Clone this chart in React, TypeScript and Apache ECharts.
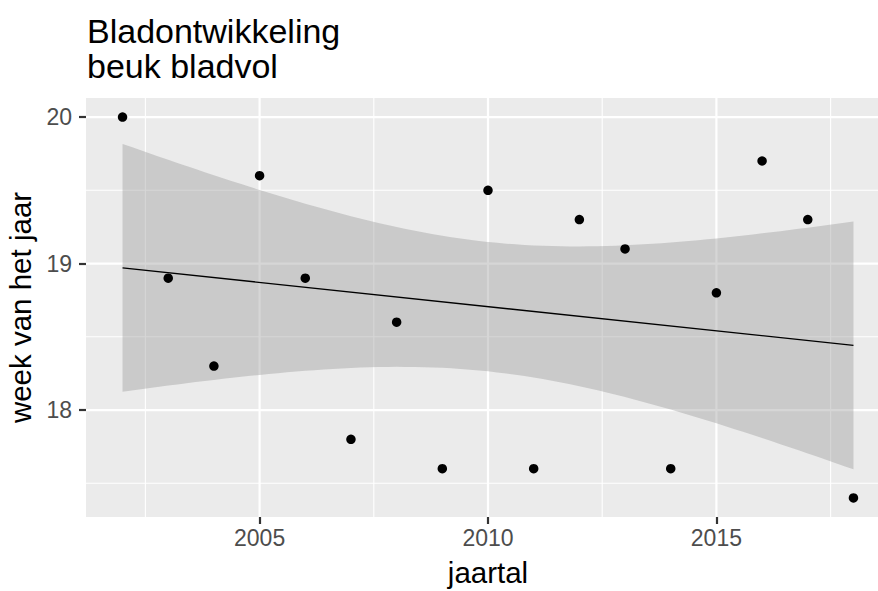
import React, { useEffect, useRef } from "react";
import * as echarts from "echarts";

// Week number at which the beech is in full leaf, per year
const years = [2002, 2003, 2004, 2005, 2006, 2007, 2008, 2009, 2010, 2011, 2012, 2013, 2014, 2015, 2016, 2017, 2018];
const weeks = [20.0, 18.9, 18.3, 19.6, 18.9, 17.8, 18.6, 17.6, 19.5, 17.6, 19.3, 19.1, 17.6, 18.8, 19.7, 19.3, 17.4];

const xTicks = [2005, 2010, 2015];
const xMinor = [2002.5, 2007.5, 2012.5, 2017.5];
const yTicks = [18, 19, 20];
const yMinor = [17.5, 18.5, 19.5];

const titleLines = ["Bladontwikkeling", "beuk bladvol"];
const xTitle = "jaartal";
const yTitle = "week van het jaar";

const X_MIN = 2001.2;
const X_MAX = 2018.8;
const Y_MIN = 17.27;
const Y_MAX = 20.13;

// Student t quantile (0.975) for n - 2 = 15 degrees of freedom
const T_975 = 2.131;
const FONT = "'Liberation Sans', Arial, Helvetica, sans-serif";

// Ordinary least squares fit with a 95% confidence band for the mean
function linearFit(xs: number[], ys: number[]) {
  const n = xs.length;
  const mx = xs.reduce((a, b) => a + b, 0) / n;
  const my = ys.reduce((a, b) => a + b, 0) / n;
  let sxx = 0;
  let sxy = 0;
  for (let i = 0; i < n; i++) {
    sxx += (xs[i] - mx) ** 2;
    sxy += (xs[i] - mx) * (ys[i] - my);
  }
  const slope = sxy / sxx;
  const intercept = my - slope * mx;
  let sse = 0;
  for (let i = 0; i < n; i++) sse += (ys[i] - (intercept + slope * xs[i])) ** 2;
  const s = Math.sqrt(sse / (n - 2));
  const predict = (x: number) => intercept + slope * x;
  const halfWidth = (x: number) => T_975 * s * Math.sqrt(1 / n + (x - mx) ** 2 / sxx);
  return { predict, halfWidth };
}

export default function App() {
  const ref = useRef<HTMLDivElement>(null);

  useEffect(() => {
    document.body.style.margin = "0";
    if (!ref.current) return;
    const chart = echarts.init(ref.current, null, { renderer: "svg" });

    const fit = linearFit(years, weeks);
    const x0 = years[0];
    const x1 = years[years.length - 1];
    const steps = 80;
    const bandX: number[] = [];
    for (let i = 0; i <= steps; i++) bandX.push(x0 + ((x1 - x0) * i) / steps);
    const upper = bandX.map((x) => [x, fit.predict(x) + fit.halfWidth(x)]);
    const lower = bandX.map((x) => [x, fit.predict(x) - fit.halfWidth(x)]);

    // [value, orientation (0 vertical, 1 horizontal), major (1) / minor (0)]
    const gridLines = [
      ...xMinor.map((v) => [v, 0, 0]),
      ...yMinor.map((v) => [v, 1, 0]),
      ...xTicks.map((v) => [v, 0, 1]),
      ...yTicks.map((v) => [v, 1, 1]),
    ];

    chart.setOption({
      animation: false,
      title: {
        text: titleLines.join("\n"),
        left: 87,
        top: 13,
        padding: 0,
        textStyle: {
          fontSize: 34,
          lineHeight: 35,
          fontWeight: "normal",
          color: "#000000",
          fontFamily: FONT,
        },
      },
      grid: {
        left: 86,
        top: 98,
        width: 804,
        height: 419,
        show: true,
        backgroundColor: "#EBEBEB",
        borderWidth: 0,
        containLabel: false,
        outerBoundsMode: "none",
      },
      xAxis: {
        type: "value",
        min: X_MIN,
        max: X_MAX,
        name: xTitle,
        nameLocation: "middle",
        nameGap: 40,
        nameTextStyle: { fontSize: 29.5, color: "#000000", fontFamily: FONT },
        axisLine: { show: false },
        axisTick: {
          show: true,
          length: 7,
          customValues: xTicks,
          lineStyle: { color: "#333333", width: 2.2 },
        },
        axisLabel: {
          customValues: xTicks,
          formatter: (v: number) => String(Math.round(v)),
          color: "#4D4D4D",
          fontSize: 23,
          margin: 9,
          fontFamily: FONT,
        },
        splitLine: { show: false },
      },
      yAxis: {
        type: "value",
        min: Y_MIN,
        max: Y_MAX,
        name: yTitle,
        nameLocation: "middle",
        nameGap: 50,
        nameTextStyle: { fontSize: 29.5, color: "#000000", fontFamily: FONT },
        axisLine: { show: false },
        axisTick: {
          show: true,
          length: 7,
          customValues: yTicks,
          lineStyle: { color: "#333333", width: 2.2 },
        },
        axisLabel: {
          customValues: yTicks,
          formatter: (v: number) => String(Math.round(v)),
          color: "#4D4D4D",
          fontSize: 23,
          margin: 14,
          fontFamily: FONT,
        },
        splitLine: { show: false },
      },
      series: [
        {
          type: "custom",
          name: "grid",
          z: 1,
          silent: true,
          clip: false,
          data: gridLines,
          renderItem: (params: any, api: any) => {
            const v = api.value(0);
            const horizontal = api.value(1) === 1;
            const major = api.value(2) === 1;
            const p1 = horizontal ? api.coord([X_MIN, v]) : api.coord([v, Y_MIN]);
            const p2 = horizontal ? api.coord([X_MAX, v]) : api.coord([v, Y_MAX]);
            return {
              type: "line",
              shape: { x1: p1[0], y1: p1[1], x2: p2[0], y2: p2[1] },
              style: { stroke: "#FFFFFF", lineWidth: major ? 2.2 : 1.1 },
            };
          },
        },
        {
          type: "custom",
          name: "band",
          z: 2,
          silent: true,
          clip: false,
          data: [[x0, fit.predict(x0)]],
          renderItem: (params: any, api: any) => {
            const pts = [
              ...upper.map((p) => api.coord(p)),
              ...lower.slice().reverse().map((p) => api.coord(p)),
            ];
            return {
              type: "polygon",
              shape: { points: pts },
              style: { fill: "rgba(153,153,153,0.4)", stroke: "none" },
            };
          },
        },
        {
          type: "line",
          name: "fit",
          z: 3,
          silent: true,
          symbol: "none",
          data: [
            [x0, fit.predict(x0)],
            [x1, fit.predict(x1)],
          ],
          lineStyle: { color: "#000000", width: 1.3 },
        },
        {
          type: "scatter",
          name: "weeks",
          z: 4,
          symbol: "circle",
          symbolSize: 9.5,
          itemStyle: { color: "#000000", opacity: 1 },
          data: years.map((y, i) => [y, weeks[i]]),
        },
      ],
    });

    return () => {
      chart.dispose();
    };
  }, []);

  return (
    <div
      ref={ref}
      style={{ position: "absolute", left: 0, top: 0, width: 878, height: 591, background: "#FFFFFF" }}
    />
  );
}
